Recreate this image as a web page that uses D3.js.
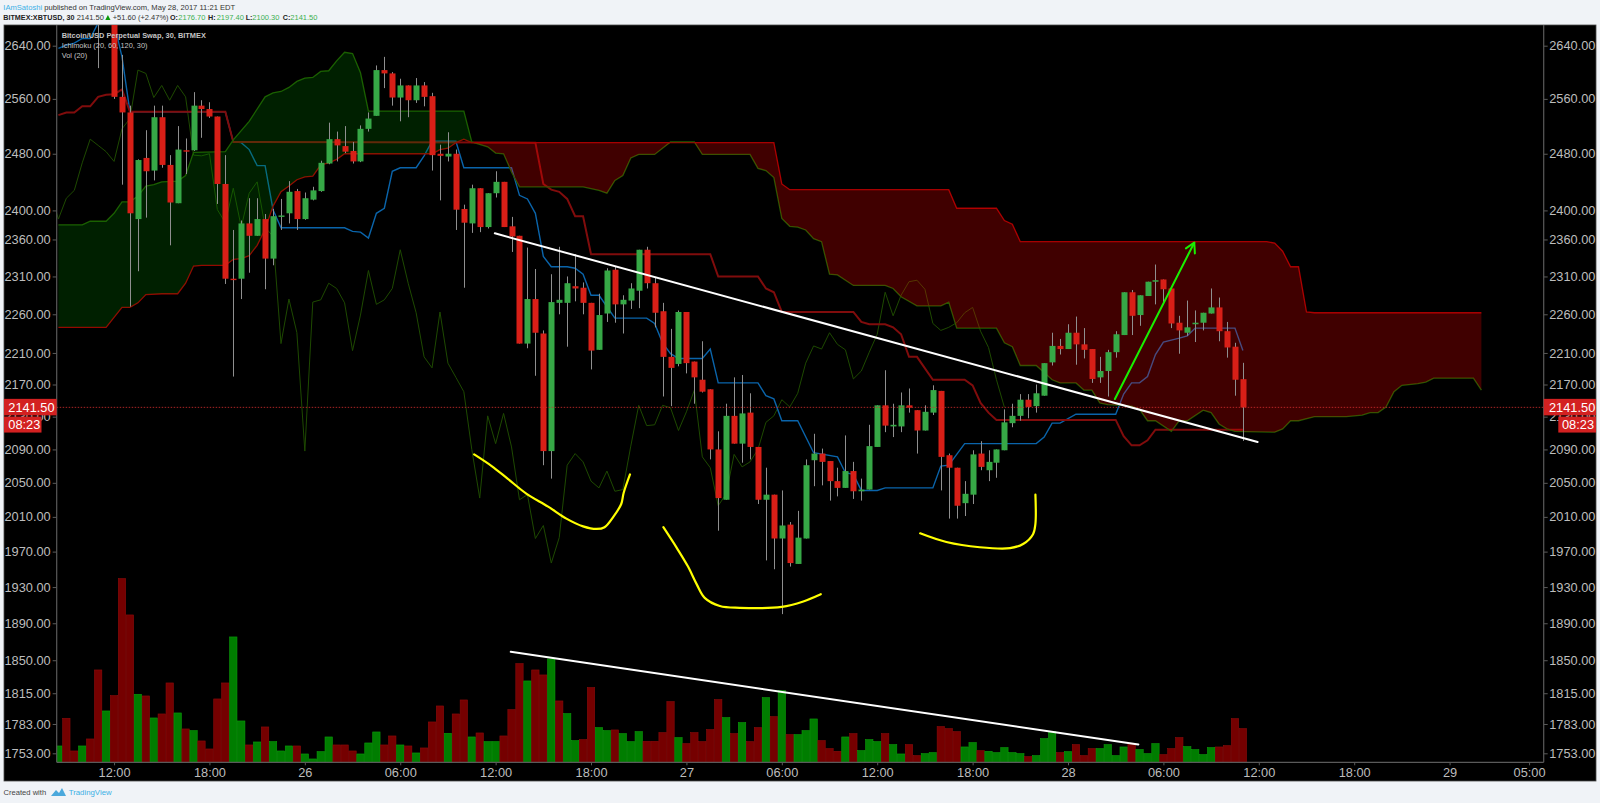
<!DOCTYPE html>
<html>
<head>
<meta charset="utf-8">
<title>XBTUSD 30</title>
<script src="https://cdn.jsdelivr.net/npm/d3@7/dist/d3.min.js"></script>
<style>
  html, body { margin: 0; padding: 0; background: #f0f3f7; }
  text { font-family: "Liberation Sans", Arial, sans-serif; }
</style>
</head>
<body>
<script>
// candles, bar 0 = May 25 08:30, 30 minute bars. bars 0-6 sit above the top of the chart
const opens = [2700,2720,2705,2690,2708,2700,2680,2698,2563,2540,2388,2474,2456,2533,2464,2410,2485,2485,2550,2545,
  2534,2437,2307,2307,2382,2365,2388,2334,2391,2396,2427,2388,2415,2427,2466,2501,2491,2484,2469,2516,
  2535,2603,2598,2562,2580,2558,2580,2564,2480,2476,2480,2402,2382,2431,2377,2424,2440,2378,2365,2222,
  2280,2235,2088,2275,2275,2297,2295,2275,2214,2261,2319,2273,2278,2291,2346,2301,2264,2205,2196,2263,
  2199,2176,2164,2090,2030,2131,2097,2135,2093,2030,2036,1985,2001,1956,1985,2077,2085,2076,2052,2044,
  2064,2040,2042,2093,2144,2118,2118,2144,2138,2113,2135,2162,2083,2068,2026,2036,2085,2065,2074,2089,
  2122,2131,2151,2143,2156,2198,2219,2215,2236,2221,2215,2179,2187,2211,2233,2289,2259,2284,2303,2306,
  2294,2249,2236,2247,2249,2261,2269,2238,2218,2176.7];
const highs = [2730,2725,2710,2712,2715,2705,2705,2705,2626,2550,2472,2514,2550,2550,2478,2520,2502,2570,2558,2555,
  2534,2478,2373,2386,2417,2417,2395,2402,2416,2441,2430,2425,2433,2470,2525,2512,2520,2497,2521,2540,
  2610,2623,2600,2590,2580,2591,2585,2569,2493,2511,2486,2408,2436,2431,2424,2455,2440,2391,2365,2349,
  2320,2239,2313,2350,2310,2340,2302,2275,2287,2321,2323,2285,2301,2346,2350,2308,2275,2241,2265,2263,
  2199,2225,2164,2112,2146,2179,2182,2159,2093,2068,2036,2041,2004,2017,2078,2109,2091,2076,2068,2107,
  2075,2055,2120,2144,2188,2146,2160,2165,2138,2144,2169,2162,2085,2068,2052,2089,2100,2089,2090,2139,
  2146,2158,2158,2170,2197,2236,2228,2247,2257,2242,2215,2205,2214,2238,2289,2292,2285,2303,2326,2306,
  2294,2258,2278,2265,2262,2294,2282,2250,2223,2197.4];
const lows = [2690,2700,2685,2685,2695,2606,2676,2560,2436,2270,2317,2390,2442,2460,2352,2410,2451,2484,2503,2532,
  2409,2300,2180,2280,2315,2365,2293,2325,2373,2382,2373,2387,2414,2426,2465,2469,2481,2466,2468,2512,
  2535,2576,2550,2527,2533,2554,2549,2456,2414,2469,2373,2295,2369,2370,2375,2418,2377,2343,2222,2216,
  2181,2071,2055,2260,2218,2277,2260,2189,2214,2250,2249,2235,2267,2268,2294,2243,2155,2143,2193,2184,
  2146,2160,2078,1994,2030,2097,2074,2078,2025,1960,1950,1900,1953,1956,1985,2046,2047,2029,2034,2044,
  2031,2029,2042,2093,2111,2105,2111,2135,2085,2113,2132,2041,2008,2008,2011,2025,2065,2052,2056,2089,
  2117,2125,2128,2135,2156,2194,2208,2215,2195,2203,2172,2172,2155,2204,2233,2233,2245,2284,2273,2273,
  2242,2209,2232,2224,2239,2261,2225,2204,2156,2100.3];
const closes = [2720,2705,2690,2708,2700,2680,2698,2563,2540,2396,2471,2455,2533,2464,2411,2486,2484,2550,2545,2534,
  2437,2307,2306,2382,2365,2388,2334,2392,2393,2426,2388,2417,2428,2467,2501,2492,2483,2469,2516,2531,
  2603,2598,2562,2580,2558,2580,2563,2478,2477,2480,2401,2383,2431,2377,2424,2440,2377,2364,2222,2280,
  2236,2088,2276,2279,2301,2294,2275,2213,2259,2318,2273,2279,2294,2346,2301,2262,2205,2191,2263,2197,
  2179,2161,2090,2032,2131,2097,2134,2093,2030,2036,1985,2000,1957,1986,2071,2085,2075,2052,2044,2064,
  2040,2042,2094,2144,2119,2120,2144,2141,2113,2136,2163,2081,2068,2023,2037,2084,2069,2075,2090,2123,
  2131,2151,2142,2159,2197,2219,2215,2236,2221,2214,2177,2187,2211,2234,2289,2258,2285,2303,2305,2293,
  2248,2239,2243,2249,2262,2269,2238,2217,2176,2141.5];

// volume bars (units are arbitrary, no scale on the chart), 1 = green
const volumes = [49,132,34,49,70,277,154,200,551,442,204,199,133,145,238,148,100,95,64,40,
  190,238,376,124,52,61,106,62,34,49,49,25,10,32,76,52,52,34,25,58,
  91,52,79,52,49,28,43,121,169,87,145,187,76,88,62,62,79,158,296,244,
  277,262,310,184,146,65,68,224,104,95,97,86,62,92,63,63,89,182,74,56,
  89,62,98,188,134,86,119,62,104,194,137,215,83,83,95,130,65,41,33,76,
  86,35,68,62,86,53,25,53,20,26,29,107,101,92,46,59,35,33,29,44,
  29,26,17,20,71,92,29,32,53,20,41,41,53,20,46,53,38,26,56,23,
  41,74,47,38,23,44,46,50,131,101];
const volumeUp = [1,0,0,1,0,0,1,0,0,0,1,0,1,0,0,1,0,1,0,0,
  0,0,1,1,0,1,0,1,1,1,0,1,1,1,1,0,0,0,1,1,
  1,0,0,1,0,1,0,0,0,1,0,0,1,0,1,1,0,0,0,1,
  0,0,1,0,1,1,0,0,1,1,0,1,1,1,0,0,0,0,1,0,
  0,0,0,0,1,0,1,0,0,1,0,1,0,1,1,1,0,0,0,1,
  0,1,1,1,0,1,1,0,0,1,1,0,0,0,1,1,0,1,1,1,
  1,1,0,1,1,1,0,1,0,0,0,1,1,1,1,0,1,1,1,0,
  0,0,1,1,1,1,0,0,0,0];

// ichimoku, read as [bar, price] at each bend of the lines
const conversion = [[0,2636],[1,2641],[2,2644],[3,2651],[4,2651],[5,2675],[7,2675],[8,2623],[9,2541],[21,2541],[22,2497],[23,2496],[24,2486],[25,2463],[26,2463],[27,2401],[28,2376],[36,2376],[37,2371],[38,2370],[39,2362],[40,2396],[41,2403],[42,2455],[43,2460],[45,2460],[46,2477],[47,2498],[50,2498],[51,2460],[57,2460],[58,2421],[59,2416],[60,2396],[61,2337],[62,2323],[64,2323],[65,2321],[66,2313],[67,2285],[68,2285],[70,2255],[74,2255],[75,2248],[76,2223],[77,2209],[78,2203],[81,2203],[82,2215],[83,2172],[88,2172],[89,2156],[90,2152],[91,2125],[93,2125],[95,2086],[98,2081],[99,2062],[100,2060],[101,2041],[103,2041],[104,2044],[110,2044],[111,2070],[112,2071],[114,2097],[123,2097],[124,2105],[125,2122],[126,2122],[128,2133],[133,2133],[134,2158],[135,2172],[136,2172],[137,2180],[138,2208],[139,2224],[141,2229],[142,2232],[143,2242],[148,2242],[149,2213]];
const base = [[0,2536],[1,2540],[2,2540],[3,2549],[4,2549],[5,2563],[6,2566],[7,2567],[8,2574],[9,2541],[21,2541],[22,2497],[60,2496],[61,2437],[62,2429],[63,2426],[64,2416],[65,2392],[66,2392],[67,2340],[82,2340],[83,2310],[88,2310],[89,2294],[90,2289],[91,2263],[100,2263],[101,2250],[102,2247],[104,2247],[105,2243],[106,2234],[107,2205],[108,2205],[110,2176],[114,2176],[115,2169],[116,2147],[117,2135],[118,2126],[133,2126],[134,2106],[135,2095],[136,2095],[137,2101],[138,2114],[149,2114]];
const leadA = [[0,2380],[3,2380],[4,2385],[6,2385],[7,2396],[8,2412],[9,2412],[10,2420],[11,2434],[12,2436],[13,2440],[15,2441],[16,2449],[17,2482],[21,2483],[22,2500],[24,2527],[26,2563],[27,2569],[28,2571],[29,2577],[30,2586],[31,2591],[32,2592],[33,2601],[34,2602],[35,2617],[36,2630],[37,2628],[38,2599],[39,2542],[51,2542],[52,2497],[54,2490],[55,2481],[56,2480],[57,2454],[58,2433],[66,2433],[68,2428],[69,2424],[70,2442],[71,2449],[72,2474],[73,2479],[75,2479],[77,2497],[80,2497],[81,2479],[87,2479],[88,2459],[89,2456],[90,2446],[91,2389],[92,2378],[93,2377],[94,2373],[95,2361],[96,2357],[97,2313],[98,2312],[100,2298],[104,2298],[105,2294],[106,2283],[108,2271],[111,2271],[112,2276],[113,2242],[118,2242],[119,2223],[120,2218],[121,2194],[123,2194],[125,2176],[126,2172],[128,2172],[129,2163],[130,2163],[131,2147],[132,2145],[134,2144],[135,2143],[136,2139],[137,2125],[138,2125],[140,2112],[141,2125],[142,2125],[144,2138],[145,2135],[146,2121],[147,2115],[148,2112],[153,2111],[154,2115],[155,2125],[156,2125],[158,2130],[162,2130],[164,2132],[165,2135],[166,2135],[167,2142],[168,2161],[169,2169],[171,2171],[172,2173],[173,2178],[178,2178],[179,2163]];
const leadB = [[0,2243],[6,2243],[7,2256],[8,2269],[9,2269],[10,2275],[11,2286],[13,2287],[15,2287],[16,2301],[17,2324],[18,2325],[21,2325],[22,2333],[23,2334],[24,2338],[25,2352],[26,2374],[27,2406],[28,2426],[29,2434],[30,2443],[31,2447],[32,2448],[33,2464],[34,2467],[35,2472],[36,2480],[47,2480],[48,2486],[49,2488],[50,2496],[51,2501],[52,2496],[90,2496],[91,2437],[92,2429],[112,2429],[113,2403],[118,2403],[119,2386],[120,2381],[121,2357],[152,2357],[153,2355],[154,2344],[155,2323],[156,2323],[157,2263],[158,2262],[179,2262]];

// hand drawn marks, [bar, price]
const trendPrice = [[54.9,2368.4],[150.85,2099]];
const trendVolume = [[56.9,1859],[135.85,1762]];
const arrowShaft = [[132.9,2151.8],[142.88,2355.6]];
const arrowHead = [[141.83,2347.9],[142.88,2355.6],[142.96,2341]];
const yellowA = [[52.3,2084],[54.5,2070],[56.5,2055],[58.9,2037],[61.6,2022],[63.9,2008],[66,1999],[67.7,1996],[68.7,1998],[69.8,2010],[70.8,2025],[71.1,2038],[71.9,2060]];
const yellowB = [[76.1,1998],[77.8,1974],[79.2,1953],[80.3,1933],[81.3,1918],[83.2,1909],[85.7,1907],[91,1908],[93.7,1914],[95.9,1922]];
const yellowC = [[108.4,1991],[111.7,1981],[115.9,1975],[119.7,1974],[121.4,1979],[122.6,1990],[122.9,2002],[122.9,2036]];

const priceTicks = [2640,2560,2480,2400,2360,2310,2260,2210,2170,2130,2090,2050,2010,1970,1930,1890,1850,1815,1783,1753];
const timeTickBars = [7,19,31,43,55,67,79,91,103,115,127,139,151,163,175,185];
const timeTickLabels = ['12:00','18:00','26','06:00','12:00','18:00','27','06:00','12:00','18:00','28','06:00','12:00','18:00','29','05:00'];
const lastPrice = 2141.5;
const countdown = '08:23';

const svgW = 1600, svgH = 803;
const plot = { left: 56.7, right: 1543.7, top: 25, bottom: 762.3 };

const svg = d3.select('body').append('svg')
  .attr('width', svgW).attr('height', svgH)
  .style('display', 'block');

svg.append('rect').attr('width', svgW).attr('height', svgH).attr('fill', '#f0f3f7');
svg.append('rect').attr('x', 4).attr('y', 25).attr('width', 1592).attr('height', 756)
  .attr('fill', '#000').attr('stroke', '#4a4a4a').attr('stroke-width', 0.8);

svg.append('clipPath').attr('id', 'plotClip').append('rect')
  .attr('x', plot.left).attr('y', plot.top)
  .attr('width', plot.right - plot.left).attr('height', plot.bottom - plot.top);

// scales
const x = d3.scaleLinear().domain([0, 149]).range([58.4, 1242.9]);
const y = d3.scaleLog().domain([1753, 2640]).range([753.3, 45.7]);
const yVol = d3.scaleLinear().domain([0, 551]).range([plot.bottom, plot.bottom - 183.7]);
const barW = x(1) - x(0);

const g = svg.append('g').attr('clip-path', 'url(#plotClip)');

// volume
g.selectAll('rect.vol').data(volumes).enter().append('rect')
  .attr('class', 'vol')
  .attr('x', (d, i) => x(i) - barW / 2 + 0.3)
  .attr('y', d => yVol(d))
  .attr('width', barW - 0.6)
  .attr('height', d => plot.bottom - yVol(d))
  .attr('fill', (d, i) => volumeUp[i] ? '#007d00' : '#750000')
  .attr('stroke', (d, i) => volumeUp[i] ? '#0a9c0a' : '#8c0a0a')
  .attr('stroke-width', 0.6);

// ichimoku lines go under the cloud, that is why they change colour inside it
const line = d3.line().x(d => x(d[0])).y(d => y(d[1]));
const lagging = closes.map((c, i) => [i - 30, c]);

g.append('path').attr('d', line(lagging)).attr('fill', 'none').attr('stroke', '#1e4a00').attr('stroke-width', 1);
g.append('path').attr('d', line(conversion)).attr('fill', 'none').attr('stroke', '#0a64aa').attr('stroke-width', 1.4);
g.append('path').attr('d', line(base)).attr('fill', 'none').attr('stroke', '#800c0c').attr('stroke-width', 2);
g.append('path').attr('d', line(leadA)).attr('fill', 'none').attr('stroke', '#1f5c00').attr('stroke-width', 1.3);
g.append('path').attr('d', line(leadB)).attr('fill', 'none').attr('stroke', '#a00000').attr('stroke-width', 1.3);

// cloud
const lineA = d3.scaleLinear().domain(leadA.map(d => d[0])).range(leadA.map(d => d[1]));
const lineB = d3.scaleLinear().domain(leadB.map(d => d[0])).range(leadB.map(d => d[1]));
const cloudBars = d3.range(0, 180);

g.append('path')
  .attr('d', d3.area().x(d => x(d)).y0(d => y(Math.min(lineA(d), lineB(d)))).y1(d => y(lineA(d)))(cloudBars))
  .attr('fill', 'rgb(0,128,0)').attr('fill-opacity', 0.25);
g.append('path')
  .attr('d', d3.area().x(d => x(d)).y0(d => y(Math.min(lineA(d), lineB(d)))).y1(d => y(lineB(d)))(cloudBars))
  .attr('fill', 'rgb(255,0,0)').attr('fill-opacity', 0.25);

// candles
const bars = opens.map((o, i) => ({ i: i, o: o, h: highs[i], l: lows[i], c: closes[i] }));

g.selectAll('line.wick').data(bars).enter().append('line')
  .attr('class', 'wick')
  .attr('x1', d => Math.round(x(d.i)) + 0.5).attr('x2', d => Math.round(x(d.i)) + 0.5)
  .attr('y1', d => y(d.h)).attr('y2', d => y(d.l))
  .attr('stroke', '#8f8f8f').attr('stroke-width', 1);

g.selectAll('rect.body').data(bars).enter().append('rect')
  .attr('class', 'body')
  .attr('x', d => Math.round(x(d.i)) + 0.5 - 3)
  .attr('y', d => y(Math.max(d.o, d.c)))
  .attr('width', 6)
  .attr('height', d => Math.max(1.4, Math.abs(y(d.o) - y(d.c))))
  .attr('fill', d => d.c >= d.o ? '#36a846' : '#d81f17');

// last price
g.append('line')
  .attr('x1', plot.left).attr('x2', plot.right)
  .attr('y1', y(lastPrice)).attr('y2', y(lastPrice))
  .attr('stroke', '#d32f2f').attr('stroke-width', 0.8).attr('stroke-dasharray', '1.5,1.5');

// hand drawn lines
const drawn = svg.append('g').attr('fill', 'none').attr('stroke-linecap', 'round').attr('stroke-linejoin', 'round');
drawn.append('path').attr('d', line(trendPrice)).attr('stroke', '#fff').attr('stroke-width', 2);
drawn.append('path').attr('d', line(trendVolume)).attr('stroke', '#fff').attr('stroke-width', 2);
drawn.append('path').attr('d', line(arrowShaft)).attr('stroke', '#19f000').attr('stroke-width', 2);
drawn.append('path').attr('d', line(arrowHead)).attr('stroke', '#19f000').attr('stroke-width', 2);

const curve = d3.line().x(d => x(d[0])).y(d => y(d[1])).curve(d3.curveCatmullRom.alpha(0.5));
[yellowA, yellowB, yellowC].forEach(pts => {
  drawn.append('path').attr('d', curve(pts)).attr('stroke', '#ffff00').attr('stroke-width', 2.2);
});

// axes
function styleAxis(sel) {
  sel.selectAll('path.domain').attr('stroke', '#5a5a5a').attr('stroke-width', 1.2);
  sel.selectAll('line').attr('stroke', '#5a5a5a');
  sel.selectAll('text').attr('fill', '#bdbdbd').style('font-size', '12.8px')
    .style('font-family', '"Liberation Sans", Arial, sans-serif');
}

const axisY = d => d3.format('.2f')(d);

svg.append('g').attr('transform', `translate(${plot.left},0)`)
  .call(d3.axisLeft(y).tickValues(priceTicks).tickFormat(axisY).tickSize(4).tickPadding(2))
  .call(sel => sel.select('path.domain').attr('d', `M0,${plot.top}V${plot.bottom}`))
  .call(styleAxis);

svg.append('g').attr('transform', `translate(${plot.right},0)`)
  .call(d3.axisRight(y).tickValues(priceTicks).tickFormat(axisY).tickSize(4).tickPadding(1.5))
  .call(sel => sel.select('path.domain').attr('d', `M0,${plot.top}V${plot.bottom}`))
  .call(styleAxis);

svg.append('g').attr('transform', `translate(0,${plot.bottom})`)
  .call(d3.axisBottom(x).tickValues(timeTickBars).tickFormat((d, i) => timeTickLabels[i]).tickSize(3).tickPadding(3))
  .call(sel => sel.select('path.domain').attr('d', `M${plot.left},0H${plot.right}`))
  .call(styleAxis);

// price and countdown flags on both sides
const flagRed = '#d32121';
const yLast = y(lastPrice);
function flag(x0, w, yTop, h, label, tx) {
  svg.append('rect').attr('x', x0).attr('y', yTop).attr('width', w).attr('height', h).attr('fill', flagRed);
  svg.append('text').attr('x', tx).attr('y', yTop + h / 2 + 4.4)
    .attr('fill', '#fff').style('font-size', '12.8px').text(label);
}
flag(4, plot.left - 4, yLast - 8.5, 16.5, d3.format('.2f')(lastPrice), 8.3);
flag(4, 37.5, yLast + 9.2, 16, countdown, 8.3);
flag(plot.right, 1596 - plot.right, yLast - 8.5, 16.5, d3.format('.2f')(lastPrice), 1549);
flag(1558.3, 1596 - 1558.3, yLast + 9.2, 16, countdown, 1562);

// legend inside the chart
const legend = svg.append('g').attr('fill', '#c4c4c4').style('font-size', '7.4px');
legend.append('text').attr('x', 61.7).attr('y', 38).style('font-weight', 'bold').text('Bitcoin/USD Perpetual Swap, 30, BITMEX');
legend.append('text').attr('x', 61.7).attr('y', 48).text('Ichimoku (20, 60, 120, 30)');
legend.append('text').attr('x', 61.7).attr('y', 58).text('Vol (20)');

// header
const head1 = svg.append('text').attr('x', 3.3).attr('y', 9.7).attr('fill', '#333').style('font-size', '7.6px');
head1.append('tspan').attr('fill', '#3bb0e6').text('IAmSatoshi');
head1.append('tspan').text(' published on TradingView.com, May 28, 2017 11:21 EDT');

const headerBits = [
  { x: 3.3, s: 'BITMEX:XBTUSD, 30', c: '#222', b: true },
  { x: 76.7, s: '2141.50', c: '#333' },
  { x: 112.7, s: '+51.60 (+2.47%)', c: '#333' },
  { x: 170, s: 'O:', c: '#222', b: true },
  { x: 178.3, s: '2176.70', c: '#3cb050' },
  { x: 208, s: 'H:', c: '#222', b: true },
  { x: 216.7, s: '2197.40', c: '#3cb050' },
  { x: 245.7, s: 'L:', c: '#222', b: true },
  { x: 252.3, s: '2100.30', c: '#3cb050' },
  { x: 282.7, s: 'C:', c: '#222', b: true },
  { x: 290.3, s: '2141.50', c: '#3cb050' }
];
svg.selectAll('text.head').data(headerBits).enter().append('text')
  .attr('class', 'head')
  .attr('x', d => d.x).attr('y', 19.7)
  .attr('fill', d => d.c)
  .style('font-size', d => d.b ? '7.2px' : '7.5px')
  .style('font-weight', d => d.b ? 'bold' : 'normal')
  .text(d => d.s);
svg.append('path').attr('d', 'M105.3,20L107.9,15L110.5,20Z').attr('fill', '#0a9a0a');

// footer
svg.append('text').attr('x', 3.5).attr('y', 795).attr('fill', '#444').style('font-size', '7.6px').text('Created with');
svg.append('path')
  .attr('d', 'M51,796L56,790L59,793L62,788L66,796Z')
  .attr('fill', '#4aa8dc');
svg.append('text').attr('x', 68.7).attr('y', 795).attr('fill', '#3bb0e6').style('font-size', '7.8px').text('TradingView');
</script>
</body>
</html>
